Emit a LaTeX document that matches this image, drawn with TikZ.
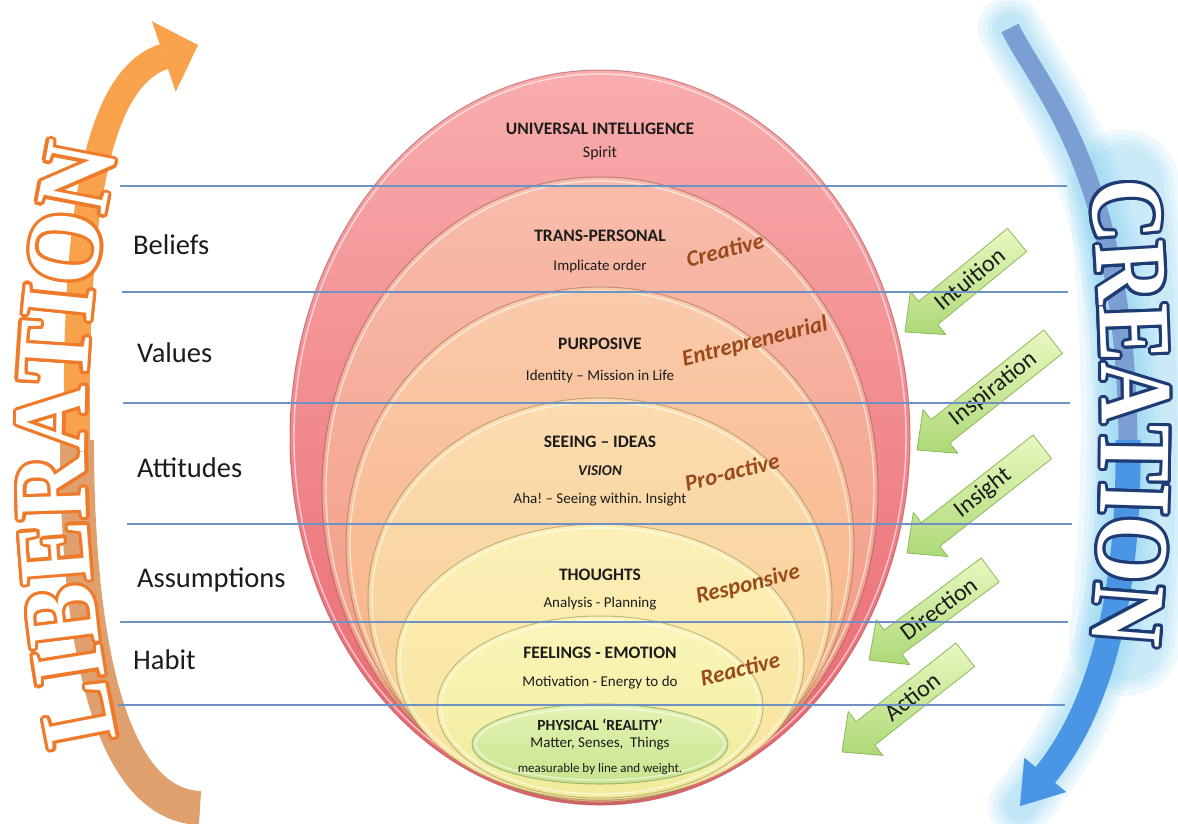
\documentclass[tikz,border=0pt]{standalone}
\usepackage{fontspec}
\setmainfont{Carlito}
\newfontfamily\liberationfont[FakeStretch=0.89]{Liberation Serif}
\newfontfamily\creationfont[FakeStretch=0.83]{Liberation Serif}
\usetikzlibrary{arrows.meta, decorations.text}

\definecolor{ringAtop}{HTML}{F9ADAC}
\definecolor{ringAbot}{HTML}{E9646E}
\definecolor{ringBtop}{HTML}{F8BCAB}
\definecolor{ringBbot}{HTML}{F2957F}
\definecolor{ringCtop}{HTML}{FACBAA}
\definecolor{ringCbot}{HTML}{F6AE80}
\definecolor{ringDtop}{HTML}{FBDCB0}
\definecolor{ringDbot}{HTML}{F8CE90}
\definecolor{ringEtop}{HTML}{FCF0B8}
\definecolor{ringEbot}{HTML}{F8E29A}
\definecolor{ringFtop}{HTML}{FAF6BA}
\definecolor{ringFbot}{HTML}{F1EB9B}
\definecolor{ringGtop}{HTML}{E3F3B4}
\definecolor{ringGbot}{HTML}{C7E48E}
\definecolor{rulecol}{HTML}{6F92C4}
\definecolor{inktext}{HTML}{1C1C1C}
\definecolor{modebrown}{HTML}{9A4A1A}
\definecolor{libtop}{HTML}{F9A24C}
\definecolor{libbot}{HTML}{DFA06E}
\definecolor{libedge}{HTML}{EE7A2A}
\definecolor{cretop}{HTML}{7C9FD3}
\definecolor{crebot}{HTML}{4B96E4}
\definecolor{creedge}{HTML}{1F3B73}
\definecolor{glowcyan}{HTML}{86D2F2}
\definecolor{cuelight}{HTML}{E9F8C0}
\definecolor{cuedark}{HTML}{ADD977}
\definecolor{cueedge}{HTML}{8DB95C}

% green cue arrow: tip, angle, length, name, label
\newcommand{\cuearrow}[5]{%
  \begin{scope}[shift={#1}, rotate=#2]
    \draw[cue] (0,0) -- (30,28) -- (30,15) -- (#3,15) -- (#3,-15)
      -- (30,-15) -- (30,-28) -- cycle;
    \node[cuelabel, rotate=#2] (#4) at ({(#3+30)/2-4},0) {#5};
  \end{scope}}

\begin{document}
\frenchspacing
\begin{tikzpicture}[
  x=1pt, y=1pt,
  ring/.style={line width=1pt, draw opacity=0.55},
  gleam/.style={draw=white, opacity=0.6, line width=1.4pt},
  rule/.style={draw=rulecol, line width=1.1pt},
  layer/.style={font=\fontsize{28.5}{32}\selectfont, text=inktext,
                anchor=base west, inner sep=0pt},
  head/.style={font=\bfseries\fontsize{17.5}{20}\selectfont, text=inktext,
               inner sep=0pt},
  sub/.style={font=\fontsize{15}{18}\selectfont, text=inktext, inner sep=0pt},
  mode/.style={font=\bfseries\itshape\fontsize{23}{26}\selectfont,
               text=modebrown, rotate=14, inner sep=0pt},
  cue/.style={top color=cuelight, bottom color=cuedark, draw=cueedge,
              line width=0.8pt, line join=round},
  cuelabel/.style={font=\fontsize{24}{26}\selectfont, text=inktext, inner sep=0pt},
  glow/.style={draw=glowcyan, opacity=0.13, line cap=round},
  libword/.style={decorate, decoration={text along path, text align=center,
      text color=#1,
      text={|\liberationfont\bfseries\fontsize{104}{104}\selectfont|LIBERATION}}},
  creword/.style={decorate, decoration={text along path, text align=center,
      text color=#1,
      text={|\creationfont\bfseries\fontsize{103}{103}\selectfont|CREATION}}}
]

\useasboundingbox[fill=white] (0,0) rectangle (1178,-823);

% LIBERATION arrow, rising on the left
\draw[draw=libbot, line width=34pt]
  (200,-808) .. controls (115,-805) and (77,-660) .. (77,-440);
\draw[draw=libtop, line width=26pt,
      -{Triangle[length=36pt, width=74pt, line width=0.1pt]}]
  (77,-440) .. controls (74,-200) and (100,-78) .. (198,-45);

% CREATION arrow, falling on the right, with its halo
\foreach \w in {64,54,44,36,30} {
  \draw[glow, line width=\w pt]
    (1010,-28) .. controls (1040,-90) and (1125,-170) .. (1128,-440)
    .. controls (1130,-620) and (1090,-720) .. (1020,-806);
}
\foreach \w in {112,100,90,80} {
  \draw[glow, line width=\w pt]
    (1123,-185) .. controls (1141,-330) and (1141,-500) .. (1125,-640);
}
\draw[draw=cretop, line width=19pt]
  (1010,-28) .. controls (1040,-90) and (1125,-170) .. (1128,-440);
\draw[draw=crebot, line width=25pt,
      -{Triangle[length=40pt, width=54pt, line width=0.1pt]}]
  (1128,-440) .. controls (1130,-620) and (1090,-720) .. (1020,-806);

% nested levels, outermost first
\draw[ring, top color=ringAtop, bottom color=ringAbot, draw=ringAbot!70!black]
  (600,-437.5) ellipse [x radius=310pt, y radius=367.5pt];
\draw[gleam] (600,-437.5) ellipse [x radius=306pt, y radius=363.5pt];
\draw[ring, top color=ringBtop, bottom color=ringBbot, draw=ringBbot!60!black]
  (600,-490) ellipse [x radius=278pt, y radius=313pt];
\draw[gleam] (600,-490) ellipse [x radius=274pt, y radius=309pt];
\draw[ring, top color=ringCtop, bottom color=ringCbot, draw=ringCbot!60!black]
  (600,-544.5) ellipse [x radius=254pt, y radius=257.5pt];
\draw[gleam] (600,-544.5) ellipse [x radius=250pt, y radius=253.5pt];
\draw[ring, top color=ringDtop, bottom color=ringDbot, draw=ringDbot!60!black]
  (600,-599) ellipse [x radius=232pt, y radius=201pt];
\draw[gleam] (600,-599) ellipse [x radius=228pt, y radius=197pt];
\draw[ring, top color=ringEtop, bottom color=ringEbot, draw=ringEbot!60!black]
  (600,-662) ellipse [x radius=204pt, y radius=138pt];
\draw[gleam] (600,-662) ellipse [x radius=200pt, y radius=134pt];
\draw[ring, top color=ringFtop, bottom color=ringFbot, draw=ringFbot!60!black]
  (600,-707) ellipse [x radius=163pt, y radius=91pt];
\draw[gleam] (600,-707) ellipse [x radius=159pt, y radius=87pt];
\draw[ring, top color=ringGtop, bottom color=ringGbot, draw=ringGbot!60!black]
  (600,-744) ellipse [x radius=128pt, y radius=40pt];
\draw[gleam] (600,-744) ellipse [x radius=124pt, y radius=36pt];

% green cues pointing into the levels
\cuearrow{(905,-332)}{39.4}{145}{intuition}{Intuition}
\cuearrow{(917,-450)}{38.5}{174}{inspiration}{Inspiration}
\cuearrow{(907,-553)}{38.1}{172}{insight}{Insight}
\cuearrow{(869,-660)}{36.6}{151}{direction}{Direction}
\cuearrow{(842,-752)}{38.3}{157}{action}{Action}

% band separators
\draw[rule] (120,-186) -- (1067,-186);
\draw[rule] (122,-292) -- (1068,-292);
\draw[rule] (123,-403) -- (1070,-403);
\draw[rule] (127,-524) -- (1072,-524);
\draw[rule] (120,-622) -- (1068,-622);
\draw[rule] (118,-705) -- (1065,-705);

% band names
\node[layer] (beliefs)     at (133,-254) {Beliefs};
\node[layer] (values)      at (137,-362) {Values};
\node[layer] (attitudes)   at (137,-477) {Attitudes};
\node[layer] (assumptions) at (137,-587) {Assumptions};
\node[layer] (habit)       at (133,-669) {Habit};

% level titles
\node[head] (universal) at (600,-129) {UNIVERSAL INTELLIGENCE};
\node[sub, font=\fontsize{16}{18}\selectfont] (spirit) at (600,-153) {Spirit};
\node[head] (transpersonal) at (600,-236) {TRANS-PERSONAL};
\node[sub]  (implicate)     at (600,-266) {Implicate order};
\node[head] (purposive)     at (600,-344) {PURPOSIVE};
\node[sub]  (identity)      at (600,-376) {Identity – Mission in Life};
\node[head] (seeing)        at (600,-442) {SEEING – IDEAS};
\node[head, font=\bfseries\itshape\fontsize{15}{18}\selectfont]
  (vision) at (600,-471) {VISION};
\node[sub]  (aha)           at (600,-500) {Aha! – Seeing within. Insight};
\node[head] (thoughts)      at (600,-575) {THOUGHTS};
\node[sub]  (analysis)      at (600,-604) {Analysis - Planning};
\node[head] (feelings)      at (600,-653) {FEELINGS - EMOTION};
\node[sub]  (motivation)    at (600,-683) {Motivation - Energy to do};
\node[head, font=\bfseries\fontsize{15.5}{18}\selectfont]
  (physical) at (600,-725) {PHYSICAL ‘REALITY’};
\node[sub]  (matter)        at (600,-744) {Matter, Senses,\ \ Things};
\node[sub, font=\fontsize{13}{15}\selectfont]
  (measurable) at (600,-769) {measurable by line and weight.};

% modes of acting
\node[mode] (creative)        at (725,-250) {Creative};
\node[mode] (entrepreneurial) at (755,-342) {Entrepreneurial};
\node[mode] (proactive)       at (732,-472) {Pro-active};
\node[mode] (responsive)      at (748,-585) {Responsive};
\node[mode] (reactive)        at (740,-669) {Reactive};

% outlined banner words along the arrows
\foreach \a in {0,22.5,...,337.5} {
  \path[shift={(\a:3.2)}, libword=libedge]
    (122,-760) .. controls (73,-550) and (73,-340) .. (122,-130);
  \path[shift={(\a:3)}, creword=creedge]
    (1088,-165) .. controls (1106,-330) and (1106,-500) .. (1090,-660);
}
\path[libword=white]
  (122,-760) .. controls (73,-550) and (73,-340) .. (122,-130);
\path[creword=white]
  (1088,-165) .. controls (1106,-330) and (1106,-500) .. (1090,-660);

\end{tikzpicture}
\end{document}
